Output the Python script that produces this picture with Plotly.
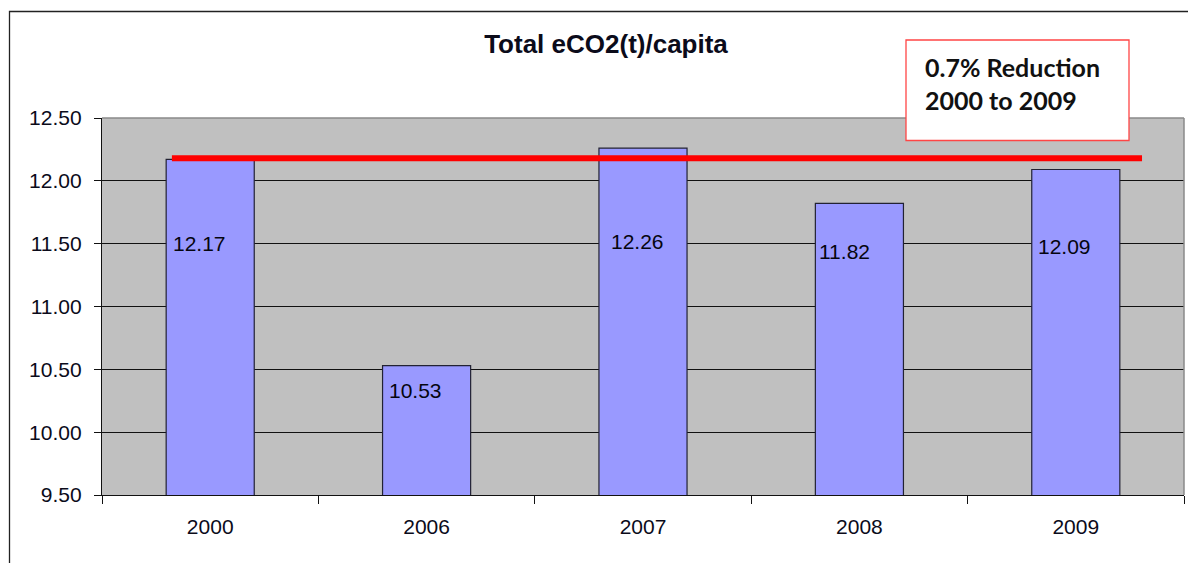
import plotly.graph_objects as go

# Emissions per head, tonnes CO2-equivalent
years = ["2000", "2006", "2007", "2008", "2009"]
eco2_per_capita = [12.17, 10.53, 12.26, 11.82, 12.09]
# Height (in axis units) at which each value label sits inside its bar
label_heights = [11.50, 10.33, 11.52, 11.44, 11.48]
label_nudge_px = [-11, -11, -6, -15, -11]

baseline_value = 12.18          # reference level drawn across the chart
y_ticks = [9.50, 10.00, 10.50, 11.00, 11.50, 12.00, 12.50]

W, H = 1188, 563
M_L, M_R, M_T, M_B = 102, 4, 118, 68
PW, PH = W - M_L - M_R, H - M_T - M_B

def px_x(p):
    return (p - M_L) / PW

def px_y(p):
    return 1 - (p - M_T) / PH

text_col = "#0b0b1a"
idx = list(range(len(years)))

fig = go.Figure()
fig.add_trace(go.Bar(
    x=years,
    y=eco2_per_capita,
    width=0.407,
    marker=dict(color="#9999FF", line=dict(color="#222233", width=1.2)),
    hoverinfo="x+y",
    showlegend=False,
))

# value labels, positioned by category index
for i, v, ly, dx in zip(idx, eco2_per_capita, label_heights, label_nudge_px):
    fig.add_annotation(
        x=i, y=ly, text=f"{v:.2f}", showarrow=False, xshift=dx,
        font=dict(family="Liberation Sans, Arial", size=21, color="#05050f"),
    )

shapes = []
# reference line across the bars
shapes.append(dict(
    type="line", xref="x", yref="y",
    x0=idx[0] - 0.177, x1=idx[-1] + 0.306,
    y0=baseline_value, y1=baseline_value,
    line=dict(color="#FF0000", width=6), layer="above",
))
# plot area border on top and right
shapes.append(dict(type="line", xref="paper", yref="paper", x0=0, x1=1, y0=1, y1=1,
                   line=dict(color="#8a8a8a", width=1.5), layer="above"))
shapes.append(dict(type="line", xref="paper", yref="paper", x0=1, x1=1, y0=0, y1=1,
                   line=dict(color="#8a8a8a", width=1.5), layer="above"))
# chart frame
shapes.append(dict(type="rect", xref="paper", yref="paper",
                   x0=px_x(9.5), x1=px_x(1192), y0=px_y(11.5), y1=px_y(580),
                   line=dict(color="#222222", width=1.3), layer="below"))
# callout box
shapes.append(dict(type="rect", xref="paper", yref="paper",
                   x0=px_x(906), x1=px_x(1129), y0=px_y(40), y1=px_y(140.5),
                   line=dict(color="#FF4545", width=1.3), fillcolor="white", layer="above"))

fig.add_annotation(
    xref="paper", yref="paper", x=px_x(923), y=px_y(83), xanchor="left", yanchor="middle",
    align="left", showarrow=False,
    text="<b>0.7% Reduction</b><br><b>2000 to 2009</b>",
    font=dict(family="Lato, Open Sans, sans-serif", size=25, color="#111111"),
)

fig.update_layout(
    width=W, height=H,
    margin=dict(l=M_L, r=M_R, t=M_T, b=M_B),
    paper_bgcolor="white",
    plot_bgcolor="#C0C0C0",
    title=dict(
        text="<b>Total eCO2(t)/capita</b>",
        x=606 / W, xanchor="center", y=1 - 44 / H, yanchor="middle",
        font=dict(family="Liberation Sans, Arial", size=26, color=text_col),
    ),
    shapes=shapes,
    xaxis=dict(
        type="category",
        range=[-0.5, len(years) - 0.5],
        showline=True, linecolor="#111111", linewidth=1.3,
        ticks="outside", tickson="boundaries", ticklen=8, tickcolor="#111111",
        tickangle=0,
        tickfont=dict(family="Liberation Sans, Arial", size=21, color=text_col),
        ticklabelstandoff=13,
        showgrid=False,
    ),
    yaxis=dict(
        range=[9.5, 12.5],
        tickvals=y_ticks,
        ticktext=[f"{t:.2f}" for t in y_ticks],
        showline=True, linecolor="#111111", linewidth=1.3,
        ticks="outside", ticklen=7, tickcolor="#111111",
        ticklabelstandoff=8,
        tickfont=dict(family="Liberation Sans, Arial", size=21, color=text_col),
        showgrid=True, gridcolor="#111111", gridwidth=1.2,
        zeroline=False,
    ),
)

fig.write_html("out.html")
